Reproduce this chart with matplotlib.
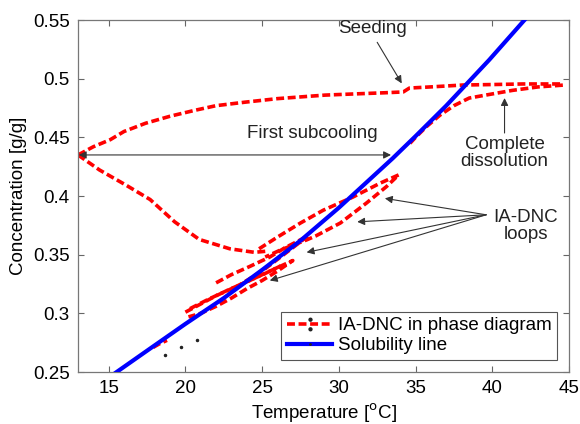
import matplotlib
matplotlib.use("Agg")
import matplotlib.pyplot as plt
from matplotlib.lines import Line2D
from matplotlib.path import Path
from matplotlib.ticker import FormatStrFormatter

plt.rcParams['font.family'] = ['Liberation Sans', 'DejaVu Sans']

# ---- data ----
# upper branch (heating from 13 C, seeding near 34 C)
upper_T = [13, 14, 15.1, 16, 17.4, 19, 20.6, 22, 23.9, 26, 29.1, 31, 33, 34.2, 34.6, 36, 38.1, 40, 42, 44.6]
upper_C = [0.435, 0.442, 0.448, 0.455, 0.462, 0.468, 0.473, 0.477, 0.480, 0.483, 0.486, 0.487, 0.488, 0.4887, 0.492, 0.493, 0.4946, 0.495, 0.4955, 0.4955]
# return branch from 44.6 C down along the solubility line
return_T = [44.6, 43, 41.3, 40, 38.5, 37.5, 36.6, 35.7, 35.0, 34.5]
return_C = [0.4945, 0.493, 0.490, 0.487, 0.4835, 0.477, 0.469, 0.459, 0.450, 0.443]
# lower branch from 13 C down to the minimum
lower_T = [13, 14.4, 16.1, 17.7, 19.3, 20.9, 22.9, 24.5, 25.3]
lower_C = [0.435, 0.4222, 0.4095, 0.397, 0.378, 0.363, 0.355, 0.352, 0.353]
# IA-DNC loops
loop1_T = [24.8, 26, 27.5, 29, 30.9, 32.7, 33.9, 33.1, 31.8, 30.1, 28.5, 27.9, 26.2, 25.2]
loop1_C = [0.355, 0.365, 0.377, 0.388, 0.399, 0.411, 0.418, 0.408, 0.394, 0.377, 0.366, 0.3626, 0.354, 0.348]
loop2_T = [22, 23, 24.2, 25.5, 26.5, 28, 27, 26, 25, 24, 23.5]
loop2_C = [0.326, 0.333, 0.340, 0.348, 0.356, 0.366, 0.356, 0.346, 0.336, 0.328, 0.324]
loop3_T = [20, 21, 22, 23, 24.2, 25.5, 27, 26, 25, 24, 23, 22, 21, 20.2]
loop3_C = [0.301, 0.308, 0.315, 0.321, 0.328, 0.336, 0.345, 0.336, 0.328, 0.321, 0.313, 0.306, 0.300, 0.297]
loop3b_T = [20.3, 21.5, 22.8, 24, 25.2, 26.3]
loop3b_C = [0.304, 0.312, 0.320, 0.327, 0.334, 0.341]
blob_T = [17.9, 18.3, 18.8]
blob_C = [0.271, 0.274, 0.277]
# stray black points
dots_T = [18.66, 19.7, 20.75]
dots_C = [0.2646, 0.2714, 0.2773]
# solubility line
sol_T = [15.3, 17.7, 20, 22.5, 25, 27.5, 30, 32, 33.5, 35, 37, 39.8, 42.1, 42.5]
sol_C = [0.248, 0.270, 0.291, 0.313, 0.337, 0.362, 0.390, 0.414, 0.432, 0.451, 0.477, 0.516, 0.550, 0.556]

xticks = [15, 20, 25, 30, 35, 40, 45]
yticks = [0.25, 0.3, 0.35, 0.4, 0.45, 0.5, 0.55]

fig = plt.figure(figsize=(5.8, 4.24), dpi=100)
ax = fig.add_axes([0.1345, 0.1226, 0.8465, 0.8302])

fs = 13.5
red = '#ff0000'
dash = (0, (2.2, 1.0))
for T, C in [(upper_T, upper_C), (return_T, return_C), (lower_T, lower_C),
             (loop1_T, loop1_C), (loop2_T, loop2_C), (loop3_T, loop3_C),
             (loop3b_T, loop3b_C), (blob_T, blob_C)]:
    ax.plot(T, C, color=red, lw=2.6, linestyle=dash, zorder=2)
ax.plot(dots_T, dots_C, ls='none', marker='.', color='#222222', ms=3, zorder=2)
ax.plot(sol_T, sol_C, color='#0000ff', lw=3, zorder=3)

ax.set_xlim(13, 45)
ax.set_ylim(0.25, 0.55)
ax.set_xticks(xticks)
ax.set_yticks(yticks)
ax.yaxis.set_major_formatter(FormatStrFormatter('%g'))
ax.tick_params(direction='in', top=True, right=True, labelsize=fs, length=4, color='#666666', pad=6)
for s in ax.spines.values():
    s.set_color('#777777')
    s.set_linewidth(0.9)
ax.set_xlabel(r'Temperature [$^{\rm o}$C]', fontsize=fs, labelpad=3)
ax.set_ylabel('Concentration [g/g]', fontsize=fs, labelpad=4)

ak = dict(arrowstyle='-|>', color='#333333', lw=0.8, mutation_scale=11, shrinkA=0, shrinkB=0)
tc = '#222222'
ax.text(32.2, 0.543, 'Seeding', ha='center', va='center', fontsize=fs, color=tc)
ax.annotate('', xy=(34.1, 0.496), xytext=(32.5, 0.531), arrowprops=ak)
ax.text(40.8, 0.437, 'Complete\ndissolution', ha='center', va='center', fontsize=fs, color=tc, linespacing=1.0)
ax.annotate('', xy=(40.8, 0.4835), xytext=(40.8, 0.4537), arrowprops=ak)
ax.text(28.3, 0.4537, 'First subcooling', ha='center', va='center', fontsize=fs, color=tc)
ax.annotate('', xy=(13.05, 0.435), xytext=(33.4, 0.435),
            arrowprops=dict(arrowstyle='<|-|>', color='#333333', lw=0.8, mutation_scale=11, shrinkA=0, shrinkB=0))
ax.text(42.2, 0.3745, 'IA-DNC\nloops', ha='center', va='center', fontsize=fs, color=tc, linespacing=1.0)
for tip in [(33.0, 0.398), (31.2, 0.378), (27.9, 0.352), (25.5, 0.328)]:
    ax.annotate('', xy=tip, xytext=(39.6, 0.384), arrowprops=ak)

two_dots = Path.make_compound_path(Path.circle((0, 1), 0.3), Path.circle((0, -1), 0.3))
h_red = Line2D([], [], color=red, lw=2.6, linestyle=dash, marker=two_dots,
               markerfacecolor='#222222', markeredgecolor='#222222', ms=9)
h_blue = Line2D([], [], color='#0000ff', lw=3, marker='.',
                markerfacecolor='#222222', markeredgecolor='#222222', ms=2)
leg = ax.legend([h_red, h_blue], ['IA-DNC in phase diagram', 'Solubility line'],
                loc='lower right', bbox_to_anchor=(0.9756, 0.034), fontsize=fs,
                handlelength=2.4, handletextpad=0.3, borderpad=0.3, labelspacing=0.15,
                borderaxespad=0, fancybox=False, framealpha=1, edgecolor='#555555')
leg.get_frame().set_linewidth(0.8)

fig.savefig('out.png', dpi=100)
